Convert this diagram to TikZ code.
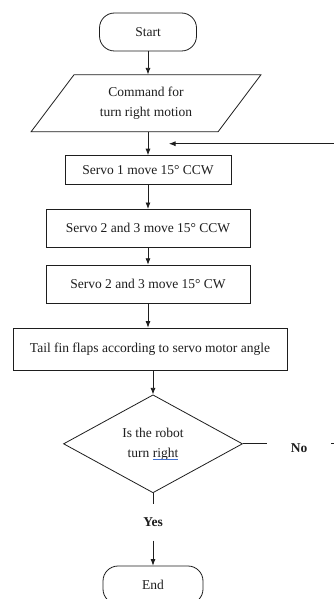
\documentclass[tikz,border=0pt]{standalone}
\usepackage{fontspec}
\setmainfont{Liberation Serif}
\usepackage{tikz}
\usetikzlibrary{arrows.meta,calc,positioning,shapes.geometric}
\usepackage{xcolor}
\definecolor{FlowInk}{HTML}{1E1E1E}
\definecolor{SpellBlue}{HTML}{3F6FD0}
\newcommand{\spellmark}[1]{%
  \setbox0\hbox{#1}\rlap{#1}\textcolor{SpellBlue}{\rule[-2.8pt]{\wd0}{0.6pt}}}
\tikzset{
  flowtext/.style={font=\fontsize{13.5}{20}\selectfont,text=FlowInk},
  flowline/.style={line width=0.8pt,draw=FlowInk},
  flowarrow/.style={flowline,-{Latex[length=6.5pt,width=5pt]}},
  terminal/.style={flowtext,draw=FlowInk,line width=0.8pt,rounded corners=15pt,minimum width=97pt,minimum height=38pt,align=center},
  process/.style={flowtext,draw=FlowInk,line width=0.8pt,minimum height=38pt,align=center},
  inout/.style={flowtext,trapezium,trapezium left angle=53,trapezium right angle=127,draw=FlowInk,line width=0.8pt,minimum width=195pt,minimum height=57pt,align=center},
  decision/.style={flowtext,diamond,aspect=1.83,draw=FlowInk,line width=0.8pt,minimum width=179pt,minimum height=98pt,align=center,inner sep=0pt},
  answer/.style={flowtext,font=\fontsize{13.5}{20}\selectfont\bfseries,inner sep=0pt}
}

\begin{document}
\begin{tikzpicture}[x=1pt,y=1pt]
  \useasboundingbox[fill=white] (0,0) rectangle (334,-599);
  \begin{scope}
    \clip (0,0) rectangle (334,-599);

    % main column
    \node[terminal] (start) at (148,-32) {Start};
    \node[inout,below=23pt of start,xshift=-2pt] (command) {Command for\\turn right motion};
    \node[process,below=23pt of command,xshift=2pt,minimum width=166pt,minimum height=29pt] (servoone) {Servo 1 move 15° CCW};
    \node[process,below=24pt of servoone,minimum width=204pt] (servoccw) {Servo 2 and 3 move 15° CCW};
    \node[process,below=17pt of servoccw,minimum width=204pt] (servocw) {Servo 2 and 3 move 15° CW};
    \node[process,below=24pt of servocw,xshift=2pt,minimum width=274pt,minimum height=42pt] (tailfin) {Tail fin flaps according to servo motor angle};
    \node[decision,below=24pt of tailfin,xshift=3pt] (robotturn) {Is the robot\\turn \spellmark{right}};
    \node[answer,below=11pt of robotturn,minimum height=36pt] (yes) {Yes};
    \node[terminal,below=25pt of yes,minimum width=100pt] (stop) {End};
    \node[answer,right=24pt of robotturn,minimum width=64pt,yshift=-4pt] (no) {No};
    \coordinate (loopin) at ($(command.south)!0.5!(servoone.north)+(22pt,0)$);

    % connectors
    \draw[flowarrow] (start.south) -- (start.south |- command.north);
    \draw[flowarrow] (command.south -| servoone.north) -- (servoone);
    \draw[flowarrow] (servoone) -- (servoccw);
    \draw[flowarrow] (servoccw) -- (servocw);
    \draw[flowarrow] (servocw.south) -- (servocw.south |- tailfin.north);
    \draw[flowarrow] (tailfin.south -| robotturn.north) -- (robotturn);
    \draw[flowline] (robotturn) -- (yes);
    \draw[flowarrow] (yes) -- (stop);
    \draw[flowline] (robotturn.east) -- (robotturn.east -| no.west);
    \draw[flowarrow] (robotturn.east -| no.east) -- ++(14pt,0) |- (loopin);
  \end{scope}
\end{tikzpicture}
\end{document}
